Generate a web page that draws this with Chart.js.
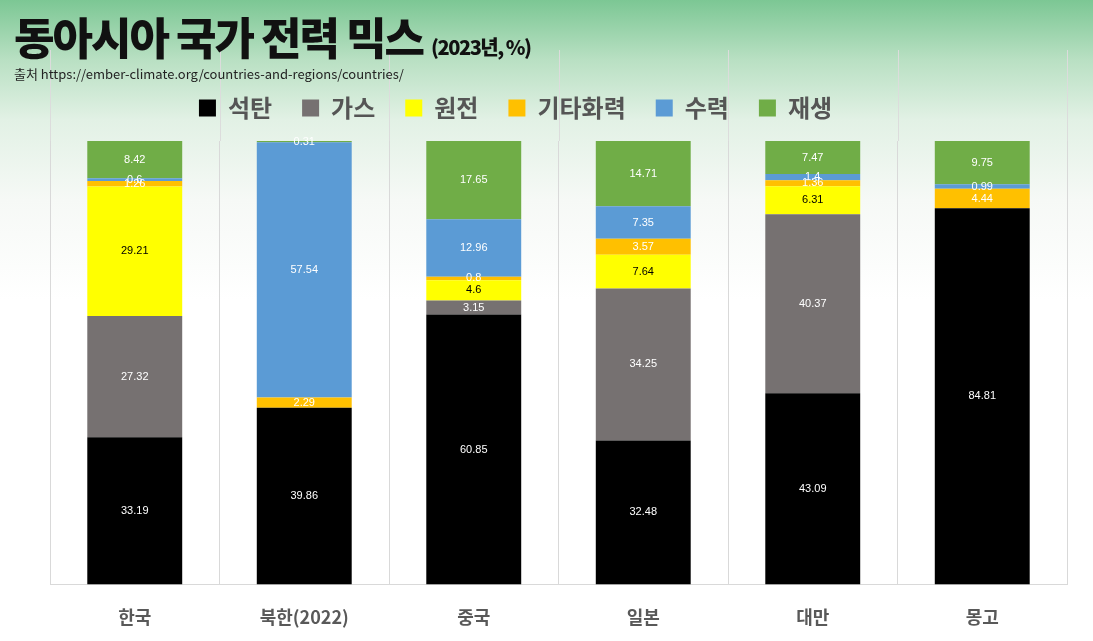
<!DOCTYPE html>
<html>
<head>
<meta charset="utf-8">
<script src="https://cdn.jsdelivr.net/npm/chart.js@4"></script>
<style>
  body { margin:0; width:1093px; height:641px; overflow:hidden;
    background: linear-gradient(to bottom, #7cc794 0px, #b9e0c3 60px, #e2f1e5 120px, #f6f9f6 200px, #ffffff 300px); }
  #title { position:absolute; left:14px; top:4px; font-family:"Noto Sans CJK KR"; font-weight:900; font-size:44px; color:#111; letter-spacing:-2px; z-index:2; }
  #title span { font-size:20px; letter-spacing:-1.5px; }
  #src { position:absolute; left:14px; top:64px; font-family:"Noto Sans CJK KR"; font-size:13px; color:#222; z-index:2; }
  #wrap { position:absolute; left:0; top:0; width:1093px; height:641px; z-index:1; }
</style>
</head>
<body>
<div id="title">동아시아 국가 전력 믹스 <span>(2023년, %)</span></div>
<div id="src">출처 https://ember-climate.org/countries-and-regions/countries/</div>
<div id="wrap"><canvas id="canv" width="1093" height="641"></canvas></div>
<script>
const countries = ["한국", "북한(2022)", "중국", "일본", "대만", "몽고"];
const coal    = [33.19, 39.86, 60.85, 32.48, 43.09, 84.81];
const gas     = [27.32, 0, 3.15, 34.25, 40.37, 0];
const nuclear = [29.21, 0, 4.6, 7.64, 6.31, 0];
const otherFossil = [1.26, 2.29, 0.8, 3.57, 1.36, 4.44];
const hydro   = [0.6, 57.54, 12.96, 7.35, 1.4, 0.99];
const renew   = [8.42, 0.31, 17.65, 14.71, 7.47, 9.75];

const series = [
  { label: "석탄", data: coal, color: "#000000", text: "#ffffff" },
  { label: "가스", data: gas, color: "#767171", text: "#ffffff" },
  { label: "원전", data: nuclear, color: "#ffff00", text: "#000000" },
  { label: "기타화력", data: otherFossil, color: "#ffc000", text: "#ffffff" },
  { label: "수력", data: hydro, color: "#5b9bd5", text: "#ffffff" },
  { label: "재생", data: renew, color: "#70ad47", text: "#ffffff" }
];

// draw the value in the middle of each segment
const valueLabels = {
  id: "valueLabels",
  afterDatasetsDraw(chart) {
    const ctx = chart.ctx;
    ctx.save();
    ctx.font = "11px 'Liberation Sans', Arial";
    ctx.textAlign = "center";
    ctx.textBaseline = "middle";
    chart.data.datasets.forEach((ds, i) => {
      chart.getDatasetMeta(i).data.forEach((bar, j) => {
        const v = ds.data[j];
        if (!v) return;
        ctx.fillStyle = series[i].text;
        ctx.fillText(String(v), bar.x, (bar.y + bar.base) / 2);
      });
    });
    ctx.restore();
  }
};

// extra gap under the legend, and nudge it a bit left like the original
const legendTweak = {
  id: "legendTweak",
  beforeInit(chart) {
    const fit = chart.legend.fit;
    chart.legend.fit = function () {
      fit.bind(chart.legend)();
      this.height += 11;
    };
  },
  afterLayout(chart) {
    chart.legend.left -= 43;
    chart.legend.right -= 43;
  }
};

// the category separators run up past the plot, behind the legend
const tallGrid = {
  id: "tallGrid",
  beforeDraw(chart) {
    const ctx = chart.ctx, xs = chart.scales.x;
    ctx.save();
    ctx.strokeStyle = '#dcdcdc';
    ctx.lineWidth = 1;
    for (let i = 0; i <= countries.length; i++) {
      const x = Math.round(xs.getPixelForValue(i - 0.5)) + 0.5;
      ctx.beginPath();
      ctx.moveTo(x, 50);
      ctx.lineTo(x, chart.chartArea.top);
      ctx.stroke();
    }
    ctx.restore();
  }
};

const ctx = document.getElementById('canv').getContext('2d');
new Chart(ctx, {
  type: 'bar',
  data: {
    labels: countries,
    datasets: series.map(s => ({
      label: s.label,
      data: s.data,
      backgroundColor: s.color,
      barPercentage: 0.56,
      categoryPercentage: 1
    }))
  },
  options: {
    responsive: false,
    animation: false,
    layout: { padding: { left: 50, right: 26, top: 66, bottom: -9 } },
    plugins: {
      legend: {
        position: 'top',
        labels: {
          boxWidth: 17, boxHeight: 17, padding: 30,
          color: '#555555',
          font: { family: "'Noto Sans CJK KR'", size: 24, weight: 'bold' }
        }
      },
      tooltip: { enabled: false }
    },
    scales: {
      x: {
        stacked: true,
        grid: { color: '#d9d9d9', offset: true, drawTicks: false },
        border: { color: '#d9d9d9' },
        ticks: { padding: 22, color: '#595959', font: { family: "'Noto Sans CJK KR'", size: 18, weight: 'bold' } }
      },
      y: {
        stacked: true, display: false, min: 0, max: 100
      }
    }
  },
  plugins: [valueLabels, legendTweak, tallGrid]
});
</script>
</body>
</html>
